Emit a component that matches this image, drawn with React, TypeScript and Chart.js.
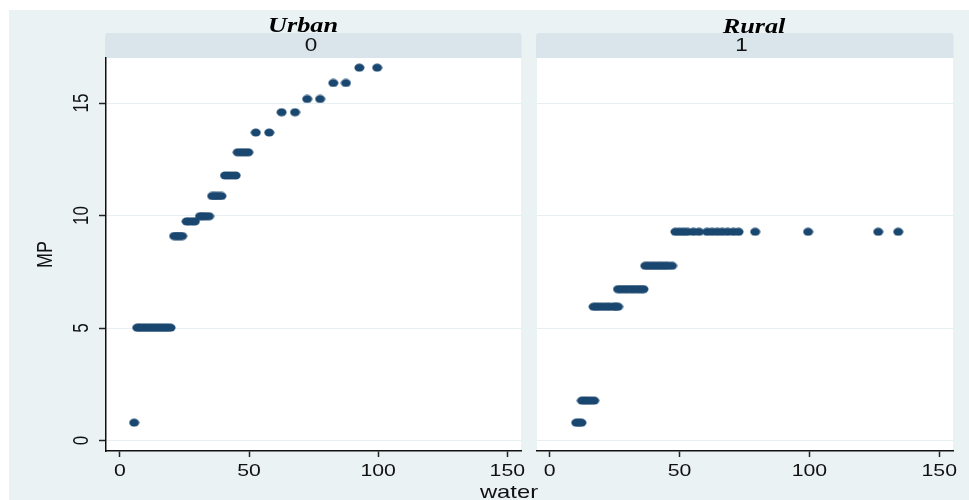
import { useEffect, useRef } from 'react';
import { Chart, registerables } from 'chart.js';

Chart.register(...registerables);

// ---- data ----
const xTicks = [0, 50, 100, 150];
const xTickLabels = ['0', '50', '100', '150'];
const yTicks = [0, 5, 10, 15];
const yTickLabels = ['0', '5', '10', '15'];
const panelTitles = ['Urban', 'Rural'];
const stripLabels = ['0', '1'];
const xTitle = 'water';
const yTitle = 'MP';

// Urban (0): MP level of each group of observations, and their water values
const urbanMP = [0.8, 5.02, 9.09, 9.74, 9.97, 10.87, 11.78, 12.81, 13.69, 14.59, 15.18, 15.89, 16.57];
const urbanWater = [
  [5.5],
  [6.7, 7.5, 8.5, 9.5, 10.5, 11.5, 12.5, 13.5, 14.5, 15.5, 16.5, 17.5, 18.5, 19.6],
  [21.0, 22.0, 23.0, 24.1],
  [25.8, 26.8, 28.0, 29.0],
  [31.0, 32.0, 33.2, 34.5],
  [35.7, 36.8, 38.0, 39.3],
  [40.7, 42.0, 43.4, 44.8],
  [45.6, 47.0, 48.4, 49.7],
  [52.6, 57.8],
  [62.6, 67.8],
  [72.5, 77.5],
  [82.6, 87.5],
  [92.7, 99.6],
];

// Rural (1)
const ruralMP = [0.8, 1.78, 5.95, 6.73, 7.77, 9.28];
const ruralWater = [
  [10.2, 11.2, 12.2],
  [12.4, 13.5, 14.6, 15.8, 17.1],
  [16.9, 18.0, 19.2, 20.5, 21.8, 23.0, 24.5, 25.4, 26.3],
  [26.3, 27.5, 28.8, 30.0, 31.3, 32.5, 33.8, 35.0, 36.1],
  [36.8, 38.0, 39.3, 40.5, 41.8, 43.0, 44.3, 45.5, 47.1],
  [48.4, 50.0, 51.5, 53.0, 55.3, 57.5, 60.6, 62.5, 64.5, 66.4, 68.5, 70.7, 72.7, 79.1, 99.5, 126.5, 134.2],
];

// ---- styles ----
const NAVY = '#1a476f';
const BG = '#eaf2f3';
const STRIP = '#d9e5ea';
const GRID = '#e6eff1';
const AXIS = '#111111';
const TEXT = '#111111';
const S = 1.25; // horizontal stretch of the reference's text

function toPoints(levels: number[], waters: number[][]) {
  const pts: { x: number; y: number }[] = [];
  levels.forEach((mp, i) => waters[i].forEach((w) => pts.push({ x: w, y: mp })));
  return pts;
}

function txt(
  ctx: CanvasRenderingContext2D,
  s: string,
  x: number,
  y: number,
  font: string,
  align: CanvasTextAlign,
  rotate = false,
  color = TEXT,
) {
  ctx.save();
  ctx.translate(x, y);
  ctx.scale(S, 1);
  if (rotate) ctx.rotate(-Math.PI / 2);
  ctx.font = font;
  ctx.fillStyle = color;
  ctx.textAlign = align;
  ctx.textBaseline = 'alphabetic';
  ctx.fillText(s, 0, 0);
  ctx.restore();
}

function makePlugin(idx: number) {
  return {
    id: 'deco' + idx,
    beforeDraw(chart: any) {
      const { ctx, chartArea: a } = chart;
      ctx.save();
      if (idx === 0) {
        ctx.fillStyle = '#ffffff';
        ctx.fillRect(0, 0, 969, 500);
        ctx.fillStyle = BG;
        ctx.fillRect(9, 10, 960, 490);
      }
      ctx.fillStyle = '#ffffff';
      ctx.fillRect(a.left, a.top, a.right - a.left, a.bottom - a.top);
      ctx.fillStyle = STRIP;
      ctx.beginPath();
      (ctx as any).roundRect(a.left - 1, a.top - 25, a.right - a.left + 1.5, 25, [3, 3, 0, 0]);
      ctx.fill();
      ctx.restore();
    },
    afterDraw(chart: any) {
      const { ctx, chartArea: a } = chart;
      const xs = chart.scales.x;
      const ys = chart.scales.y;
      const cx = (a.left + a.right) / 2;
      // x tick labels
      xTicks.forEach((v, i) => {
        txt(ctx, xTickLabels[i], xs.getPixelForValue(v), a.bottom + 24.5, '17px "Liberation Sans"', 'center');
      });
      // strip label and panel title
      txt(ctx, stripLabels[idx], cx + (idx === 0 ? -2.5 : -3.5), a.top - 7, '18px "Liberation Sans"', 'center');
      txt(
        ctx,
        panelTitles[idx],
        cx + (idx === 0 ? -10.5 : 9),
        idx === 0 ? 32 : 33,
        'bold italic 21px "Liberation Serif"',
        'center',
        false,
        '#000000',
      );
      if (idx === 0) {
        // y tick labels (rotated)
        yTicks.forEach((v, i) => {
          txt(ctx, yTickLabels[i], a.left - 18, ys.getPixelForValue(v), '17px "Liberation Sans"', 'center', true);
        });
        // axis titles
        txt(ctx, yTitle, a.left - 54, (a.top + a.bottom) / 2, '18px "Liberation Sans"', 'center', true);
        txt(ctx, xTitle, 509, 498, '19px "Liberation Sans"', 'center');
      }
    },
  };
}

function makeConfig(idx: number, marker: HTMLCanvasElement): any {
  const left = idx === 0;
  const points = left ? toPoints(urbanMP, urbanWater) : toPoints(ruralMP, ruralWater);
  return {
    type: 'scatter',
    data: {
      datasets: [
        {
          data: points,
          pointStyle: marker,
          pointRadius: 5,
          pointBorderWidth: 0,
          backgroundColor: NAVY,
          borderColor: NAVY,
        },
      ],
    },
    options: {
      animation: false,
      responsive: false,
      maintainAspectRatio: false,
      events: [],
      layout: {
        padding: left
          ? { left: 0, top: 58, right: 969 - 521, bottom: 0 }
          : { left: 537, top: 58, right: 969 - 953, bottom: 0 },
      },
      plugins: {
        legend: { display: false },
        tooltip: { enabled: false },
        title: { display: false },
      },
      scales: {
        x: {
          type: 'linear',
          min: left ? -5.4 : -4.9,
          max: 155.3,
          afterBuildTicks: (s: any) => {
            s.ticks = xTicks.map((v) => ({ value: v }));
          },
          afterFit: (s: any) => {
            s.height = 49;
          },
          ticks: { display: false },
          grid: {
            drawOnChartArea: false,
            drawTicks: true,
            tickLength: 6,
            tickColor: '#222222',
            tickWidth: 1.5,
          },
          border: { display: true, color: AXIS, width: 1.5 },
        },
        y: {
          type: 'linear',
          min: -0.46,
          max: 17.0,
          afterBuildTicks: (s: any) => {
            s.ticks = yTicks.map((v) => ({ value: v }));
          },
          afterFit: (s: any) => {
            s.width = left ? 106 : 0;
          },
          ticks: { display: false },
          grid: {
            color: GRID,
            lineWidth: 1,
            drawTicks: left,
            tickLength: 7,
            tickColor: '#222222',
            tickWidth: 1.5,
          },
          border: { display: left, color: AXIS, width: 1.5 },
        },
      },
    },
    plugins: [makePlugin(idx)],
  };
}

export default function App() {
  const leftRef = useRef<HTMLCanvasElement>(null);
  const rightRef = useRef<HTMLCanvasElement>(null);

  useEffect(() => {
    const marker = document.createElement('canvas');
    marker.width = 11;
    marker.height = 9;
    const mc = marker.getContext('2d')!;
    mc.fillStyle = NAVY;
    mc.beginPath();
    mc.ellipse(5.5, 4.5, 5, 4, 0, 0, Math.PI * 2);
    mc.fill();

    const c1 = new Chart(leftRef.current!, makeConfig(0, marker));
    const c2 = new Chart(rightRef.current!, makeConfig(1, marker));
    return () => {
      c1.destroy();
      c2.destroy();
    };
  }, []);

  const cs: any = { position: 'absolute', left: 0, top: 0, width: 969, height: 500 };
  return (
    <div style={{ position: 'fixed', left: 0, top: 0, width: 969, height: 500, overflow: 'hidden' }}>
      <canvas ref={leftRef} width={969} height={500} style={cs} />
      <canvas ref={rightRef} width={969} height={500} style={cs} />
    </div>
  );
}
